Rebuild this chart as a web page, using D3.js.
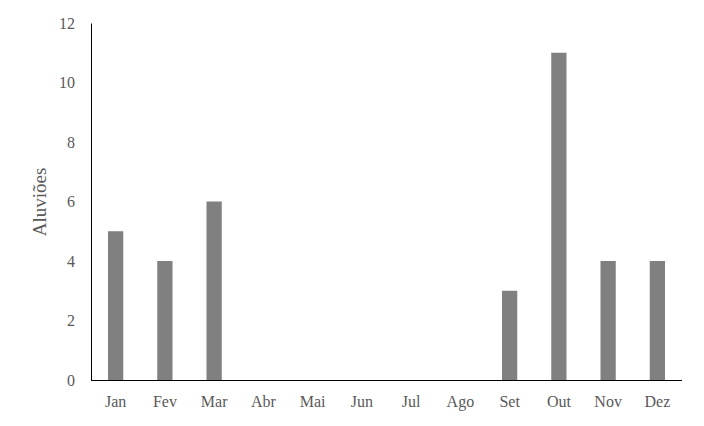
<!DOCTYPE html>
<html><head><meta charset="utf-8">
<script src="https://cdn.jsdelivr.net/npm/d3@7"></script>
<style>body{margin:0;background:#fff}</style></head>
<body><svg id="c" width="704" height="426"></svg>
<script>
const months=["Jan","Fev","Mar","Abr","Mai","Jun","Jul","Ago","Set","Out","Nov","Dez"];
const values=[5,4,6,0,0,0,0,0,3,11,4,4];
const yTicks=[0,2,4,6,8,10,12];
const svg=d3.select("#c");
const m={l:91,r:682,t:23,b:380};
const x=d3.scaleBand().domain(months).range([m.l,m.r]).paddingInner(0.69).paddingOuter(0.345);
const y=d3.scaleLinear().domain([0,12]).range([m.b,m.t]);
const font="'Liberation Serif','Times New Roman',serif";
svg.selectAll("rect.bar").data(values).join("rect")
 .attr("x",(d,i)=>x(months[i])).attr("width",x.bandwidth())
 .attr("y",d=>y(d)).attr("height",d=>y(0)-y(d)).attr("fill","#808080");
const ya=svg.append("g").attr("transform",`translate(${m.l},0)`).call(d3.axisLeft(y).tickValues(yTicks).tickSize(0).tickPadding(16));
const xa=svg.append("g").attr("transform",`translate(0,${m.b})`).call(d3.axisBottom(x).tickSize(0).tickPadding(16));
xa.select(".domain").attr("d",`M${m.l},0.5H${m.r}`);
[ya,xa].forEach(g=>{g.select(".domain").attr("stroke","#000");g.selectAll("text").attr("font-family",font).attr("font-size",16).attr("fill","#595959");});
svg.append("text").attr("transform","translate(46,202) rotate(-90)").attr("text-anchor","middle")
 .attr("font-family",font).attr("font-size",19).attr("fill","#595959").text("Aluviões");
</script></body></html>
